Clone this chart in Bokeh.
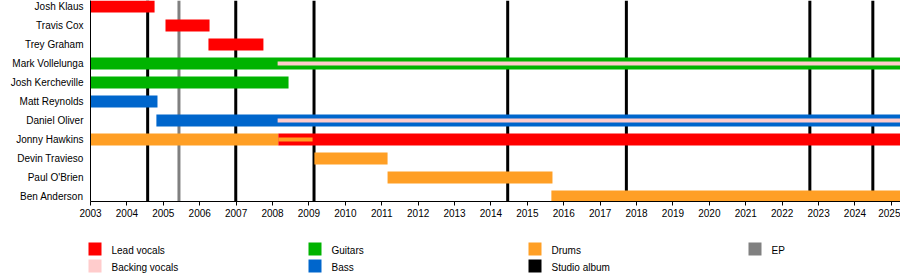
from bokeh.plotting import figure
from bokeh.models import Range1d, FixedTicker, ColumnDataSource
from bokeh.layouts import column
from bokeh.core.properties import value
from bokeh.embed import file_html
from bokeh.resources import INLINE

FONT = "Liberation Sans"

# ---------------- data ----------------
members = ["Josh Klaus", "Travis Cox", "Trey Graham", "Mark Vollelunga",
           "Josh Kercheville", "Matt Reynolds", "Daniel Oliver", "Jonny Hawkins",
           "Devin Travieso", "Paul O'Brien", "Ben Anderson"]

END = 2025.25
START = 2003

bar_member = ["Josh Klaus", "Travis Cox", "Trey Graham", "Mark Vollelunga",
              "Josh Kercheville", "Matt Reynolds", "Daniel Oliver", "Jonny Hawkins",
              "Jonny Hawkins", "Devin Travieso", "Paul O'Brien", "Ben Anderson"]
bar_role = ["Lead vocals", "Lead vocals", "Lead vocals", "Guitars",
            "Guitars", "Bass", "Bass", "Drums",
            "Lead vocals", "Drums", "Drums", "Drums"]
bar_start = [2003.0, 2005.06, 2006.24, 2003.0,
             2003.0, 2003.0, 2004.81, 2003.0,
             2008.16, 2009.15, 2011.16, 2015.66]
bar_end = [2004.76, 2006.27, 2007.75, END,
           2008.44, 2004.84, END, 2008.16,
           END, 2011.16, 2015.69, END]

thin_member = ["Mark Vollelunga", "Daniel Oliver", "Jonny Hawkins"]
thin_role = ["Backing vocals", "Backing vocals", "Drums"]
thin_start = [2008.14, 2008.14, 2008.16]
thin_end = [END, END, 2009.10]

album_dates = [2004.57, 2006.99, 2009.14, 2014.46, 2017.72, 2022.76, 2024.49]
ep_dates = [2005.43]

year_ticks = list(range(2003, 2026))

legend_labels = ["Lead vocals", "Backing vocals", "Guitars", "Bass",
                 "Drums", "Studio album", "EP"]
role_colors = {
    "Lead vocals": "#FF0000",
    "Backing vocals": "#FFCCCC",
    "Guitars": "#00B300",
    "Bass": "#0066CC",
    "Drums": "#FF9F25",
    "Studio album": "#000000",
    "EP": "#808080",
}

# ---------------- main timeline ----------------
row_of = {m: i for i, m in enumerate(members)}
y_top = -6 / 19
y_bot = (201 - 6) / 19

p = figure(width=900, height=230,
           x_range=Range1d(START, END), y_range=Range1d(y_bot, y_top),
           output_backend="svg", toolbar_location=None,
           min_border_left=90, min_border_right=0, min_border_top=0,
           min_border_bottom=29)
p.outline_line_color = None
p.xgrid.visible = False
p.ygrid.visible = False
p.background_fill_color = "white"
p.border_fill_color = "white"

# release lines (behind bars)
p.segment(x0=album_dates, x1=album_dates,
          y0=[y_top] * len(album_dates), y1=[y_bot] * len(album_dates),
          line_color=role_colors["Studio album"], line_width=3)
p.segment(x0=ep_dates, x1=ep_dates,
          y0=[y_top] * len(ep_dates), y1=[y_bot] * len(ep_dates),
          line_color=role_colors["EP"], line_width=3)

src = ColumnDataSource(dict(
    y=[row_of[m] for m in bar_member],
    left=bar_start, right=bar_end,
    color=[role_colors[r] for r in bar_role]))
p.hbar(y="y", left="left", right="right", height=12 / 19,
       fill_color="color", line_color=None, source=src)

tsrc = ColumnDataSource(dict(
    y=[row_of[m] for m in thin_member],
    left=thin_start, right=thin_end,
    color=[role_colors[r] for r in thin_role]))
p.hbar(y="y", left="left", right="right", height=4 / 19,
       fill_color="color", line_color=None, source=tsrc)

# axes
p.xaxis.ticker = FixedTicker(ticks=year_ticks)
p.xaxis.minor_tick_line_color = None
p.xaxis.major_tick_in = 0
p.xaxis.major_tick_out = 4
p.xaxis.major_label_standoff = 3
p.xaxis.axis_line_color = "black"
p.xaxis.major_tick_line_color = "black"
p.xaxis.major_label_text_font = FONT
p.xaxis.major_label_text_font_size = "10px"
p.xaxis.major_label_text_color = "black"

p.yaxis.ticker = FixedTicker(ticks=list(range(len(members))))
p.yaxis.major_label_overrides = {i: m for i, m in enumerate(members)}
p.yaxis.minor_tick_line_color = None
p.yaxis.major_tick_line_color = None
p.yaxis.major_tick_in = 0
p.yaxis.major_tick_out = 0
p.yaxis.major_label_standoff = 7
p.yaxis.axis_line_color = "black"
p.yaxis.major_label_text_font = FONT
p.yaxis.major_label_text_font_size = "10px"
p.yaxis.major_label_text_color = "black"

# ---------------- legend ----------------
lg = figure(width=900, height=50, x_range=Range1d(0, 900), y_range=Range1d(50, 0),
            output_backend="svg", toolbar_location=None,
            x_axis_type=None, y_axis_type=None,
            min_border_left=0, min_border_right=0,
            min_border_top=0, min_border_bottom=0)
lg.outline_line_color = None
lg.xgrid.visible = False
lg.ygrid.visible = False
lg.background_fill_color = "white"
lg.border_fill_color = "white"

cols = [i // 2 for i in range(len(legend_labels))]
rows = [i % 2 for i in range(len(legend_labels))]
sq_left = [88 + 220 * c for c in cols]
sq_top = [12 + 17 * r for r in rows]
lsrc = ColumnDataSource(dict(
    x=[l + 6.5 for l in sq_left], y=[t + 6.5 for t in sq_top],
    tx=[l + 23 for l in sq_left], ty=[t + 7.5 for t in sq_top],
    label=legend_labels, color=[role_colors[k] for k in legend_labels]))
lg.rect(x="x", y="y", width=13, height=13, fill_color="color",
        line_color=None, source=lsrc)
lg.text(x="tx", y="ty", text="label", source=lsrc,
        text_font=value(FONT), text_font_size="10px",
        text_baseline="middle", text_align="left", text_color="black")

layout = column(p, column(lg, spacing=0), spacing=0)
open("out.html", "w").write(file_html(layout, INLINE))
